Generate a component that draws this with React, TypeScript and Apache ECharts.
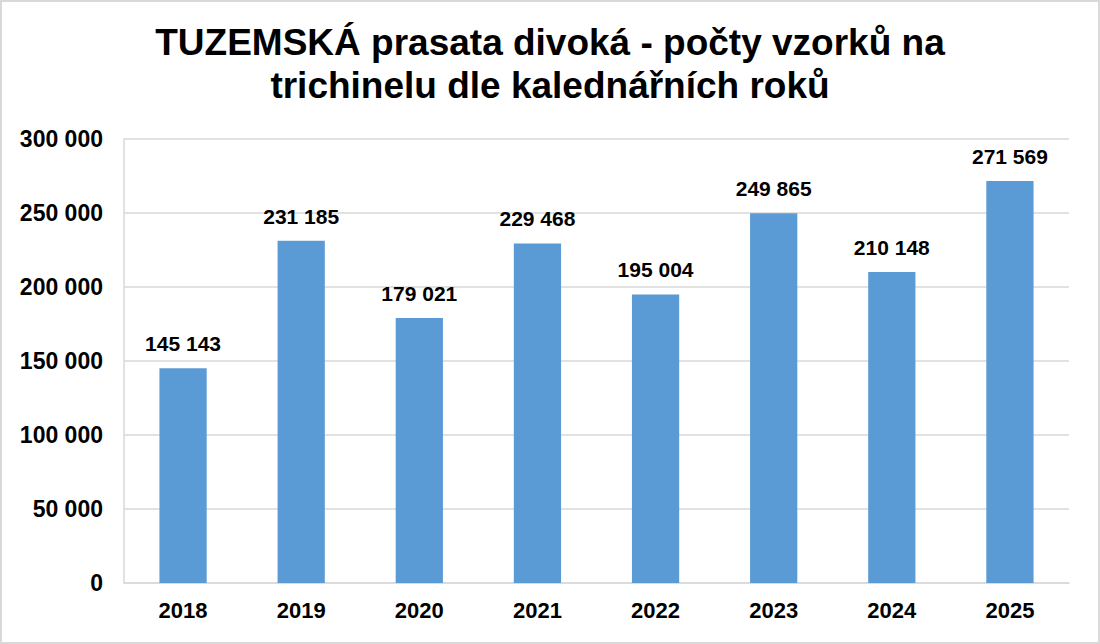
import { useEffect, useRef } from 'react';
import * as echarts from 'echarts';

// roky a počty vzorků
const years = ['2018', '2019', '2020', '2021', '2022', '2023', '2024', '2025'];
const samples = [145143, 231185, 179021, 229468, 195004, 249865, 210148, 271569];

const yTicks = [0, 50000, 100000, 150000, 200000, 250000, 300000];

const FONT = 'Liberation Sans, Arial, sans-serif';

// 271569 -> "271 569"
const fmt = (n: number) => String(n).replace(/\B(?=(\d{3})+(?!\d))/g, ' ');

const App = () => {
  const chartRef = useRef<HTMLDivElement>(null);

  useEffect(() => {
    if (!chartRef.current) return;
    const chart = echarts.init(chartRef.current, null, { renderer: 'svg' });

    const option: echarts.EChartsOption = {
      animation: false,
      backgroundColor: '#ffffff',
      title: {
        text: 'TUZEMSKÁ prasata divoká - počty vzorků na\ntrichinelu dle kalednářních roků',
        left: 'center',
        top: 16,
        textStyle: {
          fontFamily: FONT,
          fontSize: 37,
          fontWeight: 'bold',
          color: '#000000',
          lineHeight: 43
        }
      },
      grid: {
        left: 124,
        top: 139,
        right: 31,
        bottom: 61,
        containLabel: false
      },
      xAxis: {
        type: 'category',
        data: years,
        axisLine: { lineStyle: { color: '#d9d9d9', width: 1.5 } },
        axisTick: { show: false },
        axisLabel: {
          fontFamily: FONT,
          fontSize: 22,
          fontWeight: 'bold',
          color: '#000000',
          margin: 16
        }
      },
      yAxis: {
        type: 'value',
        min: yTicks[0],
        max: yTicks[yTicks.length - 1],
        interval: 50000,
        axisLine: { show: true, lineStyle: { color: '#d9d9d9', width: 1.5 } },
        axisTick: { show: false },
        splitLine: { lineStyle: { color: '#d9d9d9', width: 1.5 } },
        axisLabel: {
          fontFamily: FONT,
          fontSize: 23,
          fontWeight: 'bold',
          color: '#000000',
          margin: 21,
          formatter: (v: number) => fmt(v)
        }
      },
      series: [
        {
          type: 'bar',
          data: samples,
          barWidth: '40%',
          itemStyle: { color: '#5b9bd5' },
          label: {
            show: true,
            position: 'top',
            distance: 14,
            fontFamily: FONT,
            fontSize: 21,
            fontWeight: 'bold',
            color: '#000000',
            formatter: (p: any) => fmt(p.value as number)
          }
        }
      ],
      graphic: [
        {
          type: 'rect',
          shape: { x: 1, y: 1, width: 1098, height: 642 },
          style: { fill: 'none', stroke: '#d9d9d9', lineWidth: 2 },
          silent: true
        }
      ]
    };

    chart.setOption(option);
    return () => chart.dispose();
  }, []);

  return (
    <div
      ref={chartRef}
      style={{ position: 'absolute', left: 0, top: 0, width: '1100px', height: '644px' }}
    />
  );
};

export default App;
